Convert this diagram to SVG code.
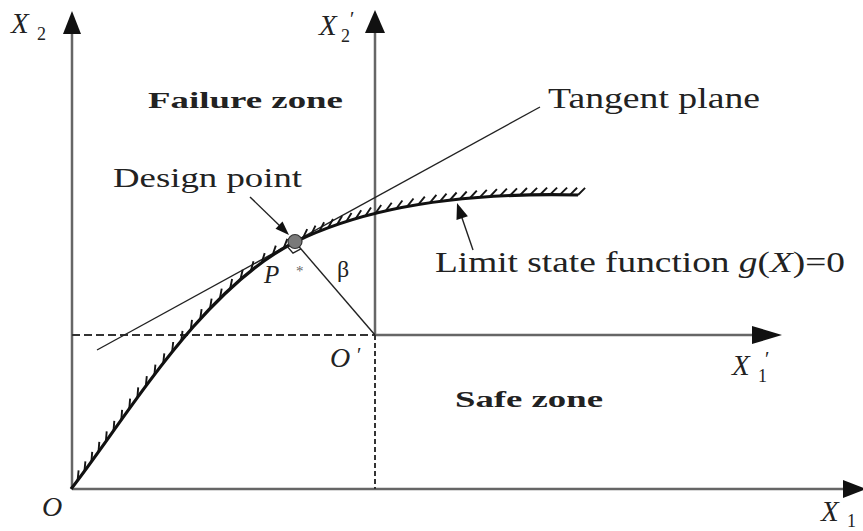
<svg xmlns="http://www.w3.org/2000/svg" width="863" height="531" viewBox="0 0 863 531">
<style>
.axis{stroke:#666;stroke-width:2.5;fill:none}
.head{fill:#111;stroke:none}
.dash{stroke:#333;stroke-width:2;fill:none}
.thin{stroke:#222;stroke-width:1.4;fill:none}
.curve{stroke:#111;stroke-width:3.2;fill:none}
.hatch{stroke:#151515;stroke-width:1.9;fill:none}
.i{font-style:italic}
.b{font-weight:bold}
</style>
<rect width="863" height="531" fill="#fff"/>
<g id="axes">
<line class="axis" x1="72" y1="489" x2="72" y2="30"/>
<polygon class="head" points="72,11 63,34 81,34"/>
<line class="axis" x1="72" y1="489" x2="846" y2="489"/>
<polygon class="head" points="866,489 843,480 843,498"/>
<line class="axis" x1="375" y1="335" x2="375" y2="30"/>
<polygon class="head" points="375,10 365,33 385,33"/>
<line class="axis" x1="375" y1="335" x2="760" y2="335"/>
<polygon class="head" points="782,335 752,326 752,344"/>
</g>
<g id="guides">
<line class="dash" x1="72" y1="335" x2="375" y2="335" stroke-dasharray="8,4"/>
<line class="dash" x1="375" y1="335" x2="375" y2="489" stroke-dasharray="5,3"/>
</g>
<g id="tangent-plane">
<line class="thin" x1="97" y1="350" x2="540" y2="107"/>
</g>
<g id="limit-state">
<path class="hatch" d="M77.6,480.4 l1,-10 M84.4,471.4 l1,-10 M91.4,461.8 l0.8,-10 M98.5,451.8 l0.8,-10 M105.9,441.4 l0.8,-10 M113.5,430.8 l0.8,-10 M121.3,419.8 l0.8,-10 M129.3,408.7 l0.8,-10 M137.4,397.4 l0.8,-10 M145.8,386.1 l1,-10 M154.4,374.7 l1,-10 M163.2,363.3 l1.1,-10 M172.1,352 l1.1,-10 M181.3,340.8 l1.2,-9.9 M190.7,329.8 l1.3,-9.9 M200.2,319.1 l1.4,-9.9 M210,308.6 l1.6,-9.9 M219.9,298.5 l1.8,-9.8 M230.1,288.8 l2,-9.8 M240.4,279.5 l2.3,-9.7 M250.9,270.8 l2.6,-9.6 M261.7,262.6 l3,-9.5 M272.6,255 l3.2,-9.4 M283.7,248.2 l3.6,-9.3 M302.9,238.2 l4.3,-9 M311.1,234.6 l4.4,-8.9 M319.5,231.1 l4.6,-8.8 M328.2,227.7 l4.8,-8.7 M337.1,224.5 l5,-8.6 M346.3,221.5 l5.2,-8.5 M355.8,218.6 l5.4,-8.4 M365.5,215.8 l5.5,-8.3 M375.5,213.2 l5.7,-8.2 M385.8,210.8 l5.9,-8.1 M396.4,208.5 l6,-8 M407.3,206.4 l6.2,-7.9 M418.5,204.4 l6.3,-7.8 M430,202.6 l6.4,-7.7 M440,201.3 l6.5,-7.6 M450,200 l6.6,-7.5 M460,198.9 l6.7,-7.4 M470,198 l6.8,-7.4 M480,197.2 l6.8,-7.3 M490,196.5 l6.9,-7.3 M500,195.9 l6.9,-7.2 M510,195.5 l7,-7.2 M520,195.1 l7,-7.1 M530,194.9 l7.1,-7.1 M540,194.75 l7.1,-7.1 M550,194.7 l7.1,-7.1 M560,194.7 l7.1,-7.1 M570,194.85 l7.1,-7.1 M578,195 l7.1,-7.1"/>
<path class="curve" d="M71,489 C125,420 200,290 295,242 C360,210 450,192 578,195"/>
</g>
<g id="beta-line">
<line class="thin" x1="295" y1="242" x2="375" y2="335"/>
<polyline class="thin" points="287.1,246.3 293,253.1 300.9,248.8" stroke-width="1.2"/>
</g>
<g id="design-point">
<circle cx="295" cy="241.5" r="7" fill="#7a7a7a" stroke="#333" stroke-width="1.2"/>
</g>
<g id="connectors">
<line class="thin" x1="250" y1="197" x2="281" y2="227"/>
<polygon class="head" points="289,235 282.5,221.6 275.5,228.8"/>
<line class="thin" x1="473" y1="250" x2="461" y2="215"/>
<polygon class="head" points="457,203 467.9,216.3 456.5,220.1"/>
</g>
<g id="labels" font-family="Liberation Serif, serif" fill="#222">
<text class="i" x="11" y="33" font-size="29">X</text>
<text x="37" y="40" font-size="18">2</text>
<text class="i" x="319" y="35" font-size="29">X</text>
<text x="350" y="26" font-size="20">′</text>
<text x="341" y="42" font-size="18">2</text>
<text class="b" x="148" y="108" font-size="23" textLength="195" lengthAdjust="spacingAndGlyphs">Failure zone</text>
<text x="113" y="187" font-size="28" textLength="189" lengthAdjust="spacingAndGlyphs">Design point</text>
<text x="548" y="108" font-size="29" textLength="212" lengthAdjust="spacingAndGlyphs">Tangent plane</text>
<text x="435" y="272" font-size="29" textLength="410" lengthAdjust="spacingAndGlyphs">Limit state function <tspan class="i">g</tspan>(<tspan class="i">X</tspan>)=0</text>
<text class="i" x="264" y="283" font-size="25">P</text>
<text x="296" y="276" font-size="15" fill="#666">*</text>
<text x="337" y="277" font-size="24">β</text>
<text class="i" x="330" y="367" font-size="28">O</text>
<text x="357" y="362" font-size="20">′</text>
<text class="i" x="732" y="375" font-size="29">X</text>
<text x="765" y="366" font-size="20">′</text>
<text x="758" y="382" font-size="18">1</text>
<text class="b" x="455" y="407" font-size="24" textLength="148" lengthAdjust="spacingAndGlyphs">Safe zone</text>
<text class="i" x="42" y="516" font-size="28">O</text>
<text class="i" x="821" y="521" font-size="29">X</text>
<text x="847" y="527" font-size="18">1</text>
</g>
</svg>
